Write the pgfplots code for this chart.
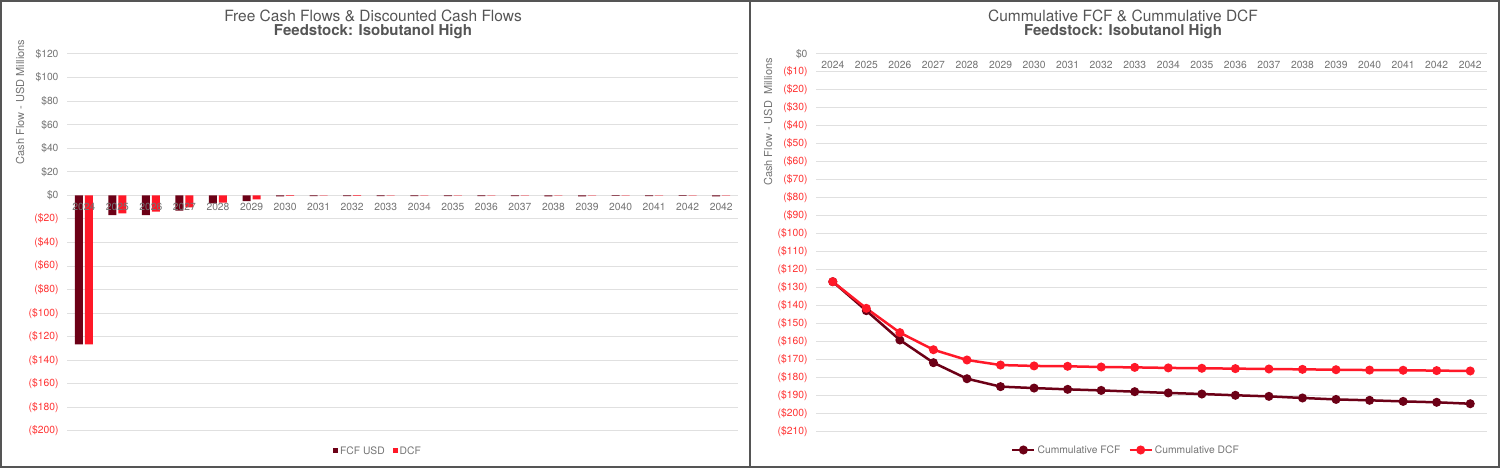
\documentclass[border=0pt]{standalone}
\usepackage{fontspec}
\setmainfont{TeX Gyre Heros}
\usepackage{pgfplots}
\pgfplotsset{compat=1.18}
\definecolor{fcf}{RGB}{108,0,22}
\definecolor{dcf}{RGB}{255,24,40}
\definecolor{neg}{RGB}{255,50,50}
\definecolor{lbl}{RGB}{115,115,115}
\definecolor{ttl}{RGB}{85,85,85}
\definecolor{grd}{RGB}{224,224,224}
\definecolor{frm}{RGB}{85,85,85}
\newcommand{\n}[1]{\textcolor{neg}{#1}}
\begin{document}
\begin{tikzpicture}
\path[use as bounding box] (0pt,0pt) rectangle (1500pt,468pt);
\pgfplotsset{
  common/.style={
    scale only axis, anchor=south west,
    xmin=-0.5, xmax=19.5,
    axis x line=middle, axis y line=left,
    axis line style={draw=none},
    hide obscured x ticks=false,
    major tick length=0pt,
    xtick={0,...,19},
    xticklabels={2024,2025,2026,2027,2028,2029,2030,2031,2032,2033,2034,2035,2036,2037,2038,2039,2040,2041,2042,2042},
    ymajorgrids, grid style={draw=grd, line width=1pt},
    tick label style={font=\fontsize{10.3}{12}\selectfont, text=lbl},
    xticklabel style={yshift=-4pt},
    yticklabel style={xshift=-5pt},
    legend style={draw=none, fill=none, font=\fontsize{10.3}{12}\selectfont\color{lbl}, legend columns=2,
      /tikz/every even column/.append style={column sep=6pt}},
    legend cell align=left,
  }
}
% ---------- Left chart ----------
\begin{axis}[common,
  at={(67pt,37pt)}, width=671pt, height=377pt,
  ymin=-200, ymax=120,
  ytick={-200,-180,...,120},
  yticklabels={\n{(\$200)},\n{(\$180)},\n{(\$160)},\n{(\$140)},\n{(\$120)},\n{(\$100)},\n{(\$80)},\n{(\$60)},\n{(\$40)},\n{(\$20)},\$0,\$20,\$40,\$60,\$80,\$100,\$120},
  xticklabels={},
  ybar=2pt, bar width=8pt,
  legend style={at={(0.4635,-0.053)}, anchor=center},
]
\addplot[fill=fcf, draw=none, legend image code/.code={\fill[fcf] (0pt,-2.5pt) rectangle (5pt,2.5pt);}]
 coordinates {(0,-126.5) (1,-16.7) (2,-16.7) (3,-13.0) (4,-6.8) (5,-4.8) (6,-0.8) (7,-0.7) (8,-0.6) (9,-0.7) (10,-0.7) (11,-0.6) (12,-0.7) (13,-0.6) (14,-0.9) (15,-0.8) (16,-0.5) (17,-0.6) (18,-0.5) (19,-0.8)};
\addlegendentry{FCF USD}
\addplot[fill=dcf, draw=none, legend image code/.code={\fill[dcf] (0pt,-2.5pt) rectangle (5pt,2.5pt);}]
 coordinates {(0,-126.5) (1,-15.3) (2,-13.9) (3,-10.2) (4,-6.2) (5,-3.4) (6,-0.5) (7,-0.3) (8,-0.4) (9,-0.2) (10,-0.3) (11,-0.2) (12,-0.2) (13,-0.2) (14,-0.2) (15,-0.2) (16,-0.2) (17,-0.2) (18,-0.2) (19,-0.2)};
\addlegendentry{DCF}
\end{axis}
% overlay axis: category labels drawn on top of the bars
\begin{axis}[common,
  at={(67pt,37pt)}, width=671pt, height=377pt,
  ymin=-200, ymax=120,
  ymajorgrids=false, ytick=\empty,
]
\end{axis}
% ---------- Right chart ----------
\begin{axis}[common,
  at={(816pt,36pt)}, width=671pt, height=378pt,
  ymin=-210, ymax=0,
  ytick={-210,-200,...,0},
  yticklabels={\n{(\$210)},\n{(\$200)},\n{(\$190)},\n{(\$180)},\n{(\$170)},\n{(\$160)},\n{(\$150)},\n{(\$140)},\n{(\$130)},\n{(\$120)},\n{(\$110)},\n{(\$100)},\n{(\$90)},\n{(\$80)},\n{(\$70)},\n{(\$60)},\n{(\$50)},\n{(\$40)},\n{(\$30)},\n{(\$20)},\n{(\$10)},\$0},
  legend style={at={(0.462,-0.0476)}, anchor=center},
  legend image code/.code={\draw[mark repeat=2,mark phase=2,#1] plot coordinates {(0pt,0pt) (11pt,0pt) (22pt,0pt)};},
]
\addplot[color=fcf, line width=2.5pt, mark=*, mark size=3.2pt]
 coordinates {(0,-126.5) (1,-142.6) (2,-158.9) (3,-171.5) (4,-180.4) (5,-184.8) (6,-185.6) (7,-186.3) (8,-186.9) (9,-187.6) (10,-188.3) (11,-188.9) (12,-189.6) (13,-190.2) (14,-191.1) (15,-191.9) (16,-192.4) (17,-193.0) (18,-193.5) (19,-194.3)};
\addlegendentry{Cummulative FCF}
\addplot[color=dcf, line width=2.5pt, mark=*, mark size=3.2pt]
 coordinates {(0,-126.5) (1,-141.3) (2,-154.8) (3,-164.3) (4,-170.0) (5,-172.8) (6,-173.3) (7,-173.5) (8,-173.9) (9,-174.1) (10,-174.4) (11,-174.6) (12,-174.8) (13,-175.0) (14,-175.2) (15,-175.4) (16,-175.6) (17,-175.7) (18,-175.9) (19,-176.1)};
\addlegendentry{Cummulative DCF}
\end{axis}
% ---------- Titles and labels ----------
\node[text=ttl, font=\fontsize{15.5}{18}\selectfont] at (373pt,452pt) {Free Cash Flows \& Discounted Cash Flows};
\node[text=ttl, font=\fontsize{15}{18}\selectfont\bfseries] at (373pt,436pt) {Feedstock: Isobutanol High};
\node[text=ttl, font=\fontsize{15.5}{18}\selectfont] at (1123pt,452pt) {Cummulative FCF \& Cummulative DCF};
\node[text=ttl, font=\fontsize{15}{18}\selectfont\bfseries] at (1123pt,436pt) {Feedstock: Isobutanol High};
\node[rotate=90, text=lbl, font=\fontsize{11}{13}\selectfont] at (20pt,366pt) {Cash Flow - USD Millions};
\node[rotate=90, text=lbl, font=\fontsize{11}{13}\selectfont] at (768pt,346pt) {Cash Flow - USD\ \ Millions};
% ---------- Frames ----------
\draw[frm, line width=2pt] (1pt,1pt) rectangle (1499pt,467pt);
\draw[frm, line width=2pt] (750pt,0pt) -- (750pt,468pt);
\end{tikzpicture}
\end{document}
